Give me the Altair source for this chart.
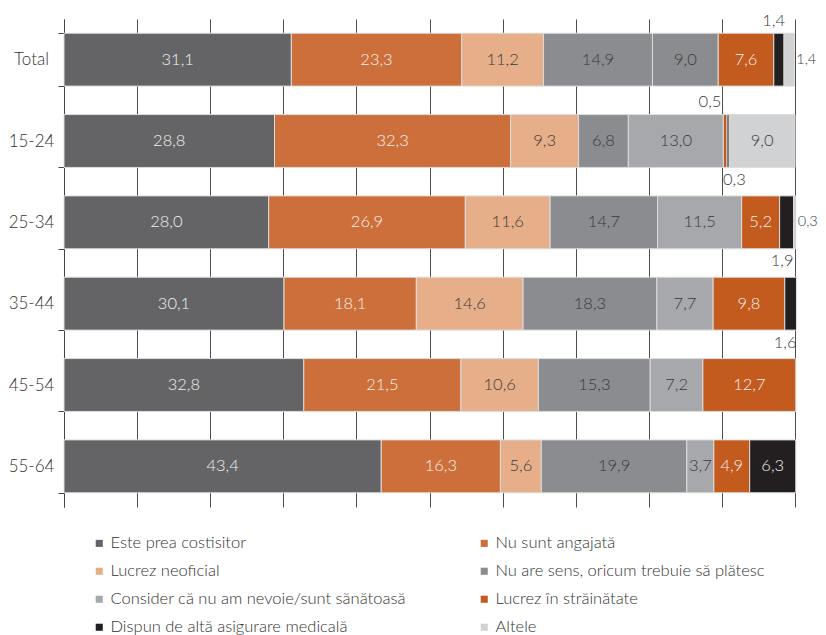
import altair as alt
import pandas as pd

ages = ["Total", "15-24", "25-34", "35-44", "45-54", "55-64"]
series = [
    "Este prea costisitor",
    "Nu sunt angajată",
    "Lucrez neoficial",
    "Nu are sens, oricum trebuie să plătesc",
    "Consider că nu am nevoie/sunt sănătoasă",
    "Lucrez în străinătate",
    "Dispun de altă asigurare medicală",
    "Altele",
]
este = [31.1, 28.8, 28.0, 30.1, 32.8, 43.4]
angajata = [23.3, 32.3, 26.9, 18.1, 21.5, 16.3]
neoficial = [11.2, 9.3, 11.6, 14.6, 10.6, 5.6]
sens = [14.9, 6.8, 14.7, 18.3, 15.3, 19.9]
consider = [9.0, 13.0, 11.5, 7.7, 7.2, 3.7]
strainatate = [7.6, 0.5, 5.2, 9.8, 12.7, 4.9]
dispun = [1.4, 0.3, 1.9, 1.6, 0.0, 6.3]
altele = [1.4, 9.0, 0.3, 0.0, 0.0, 0.0]
all_values = [este, angajata, neoficial, sens, consider, strainatate, dispun, altele]

colors = ["#646466", "#CC6F3A", "#E6AF8A", "#8B8C90", "#A7A8AB", "#C35A1E", "#231F20", "#D1D2D4"]
light_text_series = [series[0], series[1], series[5], series[6]]

# small segments whose labels sit outside the bar
out_age = ["Total", "Total", "15-24", "15-24", "25-34", "25-34", "35-44"]
out_series = [series[6], series[7], series[5], series[6], series[7], series[6], series[6]]
out_pos = ["above_end", "right", "above_start", "below_start", "right", "below_end", "below_end"]

rows = []
for si, (name, vals) in enumerate(zip(series, all_values)):
    for a, v in zip(ages, vals):
        if v > 0:
            rows.append({"age": a, "series": name, "value": v, "order": si, "pos": "in"})
df = pd.DataFrame(rows)
for a, s, p in zip(out_age, out_series, out_pos):
    df.loc[(df.age == a) & (df.series == s), "pos"] = p

FONT = "Lato"
LABEL_SIZE = 16.5

base = alt.Chart(df).transform_stack(
    stack="value", groupby=["age"], as_=["x0", "x1"], sort=[alt.SortField("order")]
).transform_calculate(
    mid="(datum.x0 + datum.x1) / 2",
    label="replace(format(datum.value, '.1f'), '.', ',')",
)

yenc = alt.Y(
    "age:N",
    sort=ages,
    title=None,
    scale=alt.Scale(paddingInner=0.35, paddingOuter=0.175),
    axis=alt.Axis(
        tickBand="extent",
        labelAlign="center",
        labelPadding=27,
        labelFont=FONT,
        labelFontSize=17,
        labelFontWeight=300,
        labelColor="#333333",
        tickSize=6,
        tickColor="#444444",
        domainColor="#444444",
        grid=False,
    ),
)

xscale = alt.Scale(domain=[0, 100], nice=False, clamp=False)

bars = base.mark_bar(stroke="#dcdcdc", strokeWidth=1).encode(
    y=yenc,
    x=alt.X(
        "x0:Q",
        scale=xscale,
        title=None,
        axis=alt.Axis(
            values=list(range(0, 101, 10)),
            labels=False,
            ticks=False,
            domain=False,
            grid=True,
            gridColor="#4d4d4d",
            gridWidth=1,
        ),
    ),
    x2="x1:Q",
    color=alt.when((alt.datum.age == "Total") & (alt.datum.series == series[4]))
    .then(alt.value(colors[3]))
    .otherwise(
        alt.Color(
            "series:N",
            scale=alt.Scale(domain=series, range=colors),
            legend=alt.Legend(
                title=None,
                orient="none",
                direction="horizontal",
                legendX=27,
                legendY=516,
                columns=2,
                columnPadding=70,
                rowPadding=11,
                labelLimit=500,
                symbolType="square",
                symbolSize=50,
                symbolStrokeWidth=0,
                labelFont=FONT,
                labelFontSize=16.5,
                labelFontWeight=300,
                labelColor="#333333",
                labelOffset=3,
            ),
        )
    ),
    order=alt.Order("order:Q"),
)

inside = base.transform_filter("datum.pos == 'in'").mark_text(
    font=FONT, fontSize=LABEL_SIZE, fontWeight=300, baseline="middle"
).encode(
    y=alt.Y("age:N", sort=ages),
    x=alt.X("mid:Q", scale=xscale),
    text="label:N",
    color=alt.when(alt.FieldOneOfPredicate(field="series", oneOf=light_text_series))
    .then(alt.value("#f2f2f2"))
    .otherwise(alt.value("#3a3a3a")),
)

styles = {
    "above_end": dict(field="x1", align="right", dx=1, dy=-39, size=LABEL_SIZE),
    "above_start": dict(field="x0", align="right", dx=-2, dy=-39, size=LABEL_SIZE),
    "below_start": dict(field="x0", align="left", dx=-4, dy=39, size=LABEL_SIZE),
    "below_end": dict(field="x1", align="right", dx=0, dy=39, size=LABEL_SIZE),
    "right": dict(field="x1", align="left", dx=2, dy=0, size=14.5),
}
outside_layers = []
for key, st in styles.items():
    outside_layers.append(
        base.transform_filter(f"datum.pos == '{key}'").mark_text(
            font=FONT, fontSize=st["size"], fontWeight=300, baseline="middle",
            align=st["align"], dx=st["dx"], dy=st["dy"],
        ).encode(
            y=alt.Y("age:N", sort=ages),
            x=alt.X(f"{st['field']}:Q", scale=xscale),
            text="label:N",
            color=alt.value("#3a3a3a"),
        )
    )

chart = alt.layer(bars, inside, *outside_layers).properties(
    width=731,
    height=488,
    padding={"left": 56, "top": 11, "right": 23, "bottom": 129},
    autosize=alt.AutoSizeParams(type="none"),
).configure_view(stroke=None)

chart.save("out.html", embed_options={"renderer": "svg", "actions": False})
